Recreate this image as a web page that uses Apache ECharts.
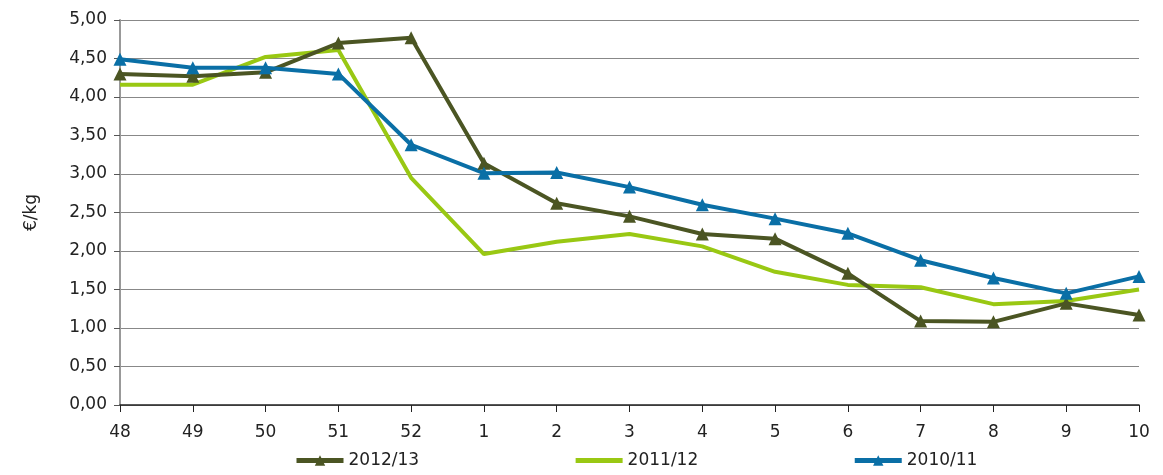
<!DOCTYPE html>
<html>
<head>
<meta charset="utf-8">
<script src="https://cdn.jsdelivr.net/npm/echarts@6/dist/echarts.min.js"></script>
<style>
  html, body { margin: 0; padding: 0; background: #fff; }
  #chart { width: 1163px; height: 475px; }
</style>
</head>
<body>
<div id="chart"></div>
<script>
const weeks = ["48", "49", "50", "51", "52", "1", "2", "3", "4", "5", "6", "7", "8", "9", "10"];
const s2012 = [4.30, 4.27, 4.32, 4.70, 4.77, 3.14, 2.62, 2.45, 2.22, 2.16, 1.71, 1.09, 1.08, 1.32, 1.17];
const s2011 = [4.16, 4.16, 4.52, 4.61, 2.95, 1.96, 2.12, 2.22, 2.06, 1.73, 1.56, 1.53, 1.31, 1.35, 1.50];
const s2010 = [4.49, 4.38, 4.38, 4.30, 3.38, 3.01, 3.02, 2.83, 2.60, 2.42, 2.23, 1.88, 1.65, 1.45, 1.67];

const font = "'DejaVu Sans', sans-serif";
const chart = echarts.init(document.getElementById("chart"));

const line = (name, data, color, marker) => ({
    name,
    type: "line",
    data,
    symbol: marker ? "triangle" : "none",
    symbolSize: 13,
    lineStyle: { color, width: 4 },
    itemStyle: { color },
    z: marker ? 3 : 2,
});

chart.setOption({
    animation: false,
    grid: { left: 120, right: 24, top: 20, bottom: 70 },
    legend: {
        bottom: 1,
        left: 289,
        itemGap: 154,
        itemWidth: 47,
        itemHeight: 13,
        lineStyle: { width: 5 },
        textStyle: { fontFamily: font, fontSize: 17, color: "#222" },
        data: [
            { name: "2012/13" },
            { name: "2011/12", itemStyle: { opacity: 0 } },
            { name: "2010/11" },
        ],
    },
    xAxis: {
        type: "category",
        data: weeks,
        boundaryGap: false,
        axisLine: { lineStyle: { color: "#222", width: 1.5 } },
        axisTick: { length: 7, lineStyle: { color: "#222" } },
        axisLabel: { fontFamily: font, fontSize: 17, color: "#222", margin: 19 },
    },
    yAxis: {
        type: "value",
        min: 0,
        max: 5,
        interval: 0.5,
        name: "€/kg",
        nameLocation: "middle",
        nameGap: 80,
        nameTextStyle: { fontFamily: font, fontSize: 17, color: "#222" },
        axisLine: { show: true, lineStyle: { color: "#999", width: 2 } },
        axisTick: { show: true, length: 6, lineStyle: { color: "#555" } },
        splitLine: { lineStyle: { color: "#888", width: 1.2 } },
        axisLabel: {
            fontFamily: font, fontSize: 17, color: "#222", margin: 13,
            formatter: (v) => v.toFixed(2).replace(".", ","),
        },
    },
    series: [
        line("2012/13", s2012, "#4b5523", true),
        line("2011/12", s2011, "#99c813", false),
        line("2010/11", s2010, "#0a6fa6", true),
    ],
});
</script>
</body>
</html>
